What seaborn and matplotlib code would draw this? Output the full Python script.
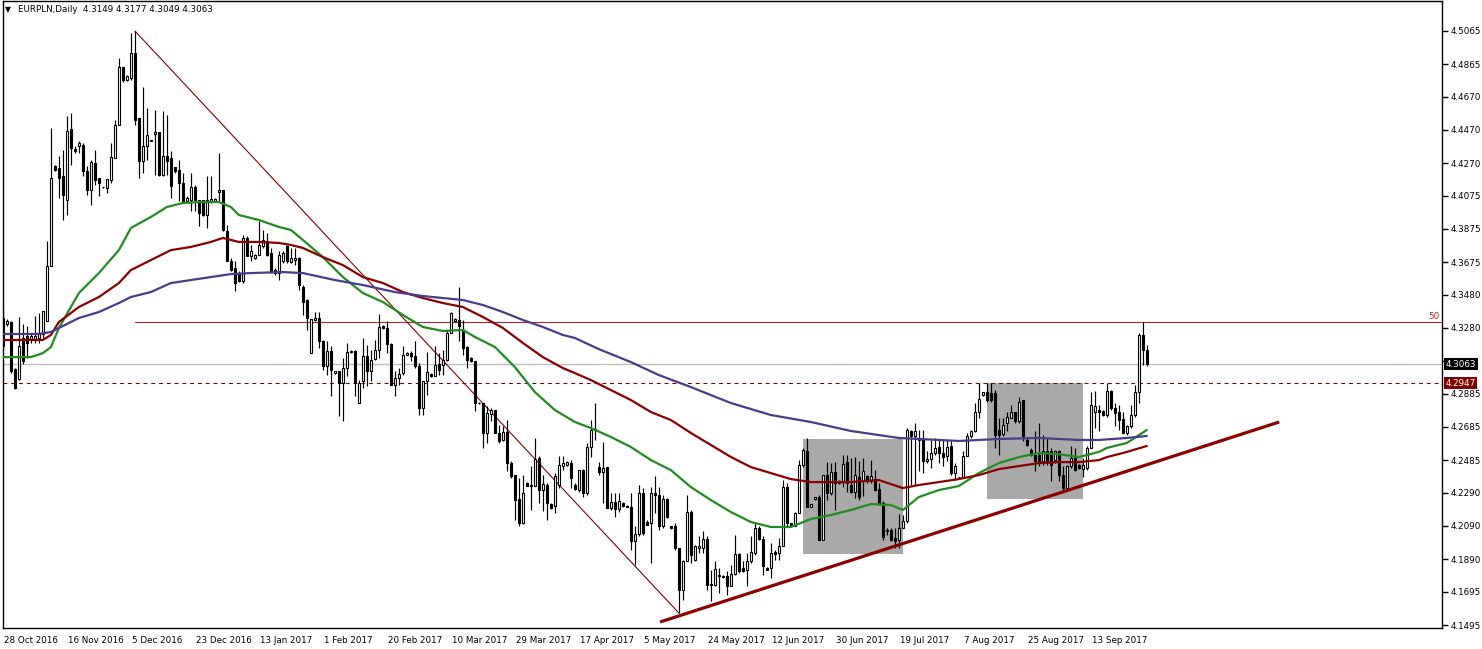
"""EURPLN daily candlestick chart with moving averages, trend lines and zones."""

import matplotlib

matplotlib.use("Agg")
import matplotlib.pyplot as plt
import matplotlib.transforms as mtransforms
import numpy as np
import seaborn as sns
from matplotlib.patches import Rectangle

# --- OHLC per daily bar (bar 0 = 28 Oct 2016) ---
opens = [
    4.3341, 4.3301, 4.3315, 4.3031, 4.2971, 4.3221, 4.3231, 4.3211, 4.3211, 4.3221,
    4.3241, 4.3321, 4.3651, 4.4251, 4.4241, 4.4191, 4.4051, 4.4477, 4.4357, 4.4371,
    4.4381, 4.4221, 4.4111, 4.4271, 4.4181, 4.4127, 4.4121, 4.4171, 4.4301, 4.4501,
    4.4851, 4.4771, 4.4781, 4.4931, 4.4541, 4.4281, 4.4371, 4.4407, 4.4447, 4.4457,
    4.4201, 4.4311, 4.4301, 4.4245, 4.4227, 4.4151, 4.4045, 4.4051, 4.4127, 4.4051,
    4.4051, 4.3961, 4.4041, 4.4041, 4.4097, 4.4111, 4.3865, 4.3685, 4.3641, 4.3611,
    4.3561, 4.3821, 4.3711, 4.3701, 4.3721, 4.3771, 4.3801, 4.3731, 4.3631, 4.3611,
    4.3681, 4.3771, 4.3679, 4.3689, 4.3699, 4.3529, 4.3449, 4.3129, 4.3329, 4.3339,
    4.3199, 4.3049, 4.3139, 4.3009, 4.3019, 4.2949, 4.3039, 4.3133, 4.3139, 4.2829,
    4.2959, 4.3109, 4.3019, 4.3093, 4.3145, 4.3289, 4.3279, 4.3185, 4.2939, 4.2979,
    4.3009, 4.3119, 4.3129, 4.3113, 4.3049, 4.2799, 4.2959, 4.3003, 4.2989, 4.3065,
    4.3059, 4.3085, 4.3249, 4.3319, 4.3329, 4.3269, 4.3165, 4.3099, 4.3083, 4.2829,
    4.2829, 4.2649, 4.2765, 4.2789, 4.2649, 4.2609, 4.2653, 4.2469, 4.2399, 4.2253,
    4.2109, 4.2349, 4.2329, 4.2329, 4.2499, 4.2309, 4.2339, 4.2223, 4.2209, 4.2339,
    4.2453, 4.2459, 4.2469, 4.2337, 4.2307, 4.2427, 4.2287, 4.2563, 4.2667, 4.2443,
    4.2417, 4.2443, 4.2197, 4.2237, 4.2193, 4.2231, 4.2213, 4.2207, 4.1997, 4.2043,
    4.2287, 4.2117, 4.2107, 4.2287, 4.2277, 4.2087, 4.2251, 4.2087, 4.2087, 4.1957,
    4.1707, 4.1877, 4.2177, 4.1887, 4.1957, 4.1957, 4.2011, 4.1741, 4.1737, 4.1793,
    4.1791, 4.1787, 4.1727, 4.1801, 4.1923, 4.1837, 4.1827, 4.1877, 4.1927, 4.2077,
    4.2011, 4.1837, 4.1837, 4.1931, 4.1927, 4.1967, 4.2327, 4.2107, 4.2087, 4.2171,
    4.2457, 4.2543, 4.2207, 4.2251, 4.2267, 4.2007, 4.2397, 4.2287, 4.2417, 4.2347,
    4.2363, 4.2477, 4.2337, 4.2297, 4.2387, 4.2358, 4.2388, 4.2358, 4.2374, 4.2314,
    4.2228, 4.2058, 4.2068, 4.2018, 4.2008, 4.2078, 4.2118, 4.2658, 4.2628, 4.2618,
    4.2614, 4.2478, 4.2494, 4.2528, 4.2562, 4.2528, 4.2508, 4.2572, 4.2408, 4.2382,
    4.2382, 4.2512, 4.2628, 4.2658, 4.2778, 4.2878, 4.2894, 4.2888, 4.2888, 4.2668,
    4.2642, 4.2708, 4.2742, 4.2774, 4.2718, 4.2848, 4.2608, 4.2548, 4.2518, 4.2518,
    4.2478, 4.2538, 4.2538, 4.2488, 4.2538, 4.2398, 4.2318, 4.2448, 4.2498, 4.2458,
    4.2434, 4.2438, 4.2558, 4.2774, 4.2788, 4.2782, 4.2758, 4.2902, 4.2798, 4.2774,
    4.2734, 4.2648, 4.2688, 4.2758, 4.2898, 4.3238, 4.3149,
]
highs = [
    4.3411, 4.3331, 4.3321, 4.3041, 4.3345, 4.3301, 4.3291, 4.3241, 4.3351, 4.3371,
    4.3381, 4.3801, 4.4481, 4.4261, 4.4311, 4.4351, 4.4551, 4.4571, 4.4371, 4.4401,
    4.4391, 4.4251, 4.4291, 4.4351, 4.4181, 4.4127, 4.4175, 4.4391, 4.4531, 4.4901,
    4.4851, 4.4801, 4.5051, 4.5065, 4.4541, 4.4731, 4.4601, 4.4411, 4.4591, 4.4457,
    4.4581, 4.4561, 4.4341, 4.4245, 4.4291, 4.4211, 4.4071, 4.4211, 4.4141, 4.4051,
    4.4051, 4.4191, 4.4191, 4.4061, 4.4331, 4.4111, 4.3901, 4.3701, 4.3681, 4.3621,
    4.3841, 4.3831, 4.3781, 4.3725, 4.3921, 4.3871, 4.3851, 4.3761, 4.3641, 4.3741,
    4.3741, 4.3781, 4.3759, 4.3759, 4.3709, 4.3539, 4.3453, 4.3333, 4.3379, 4.3379,
    4.3209, 4.3199, 4.3169, 4.3023, 4.3023, 4.3099, 4.3189, 4.3149, 4.3149, 4.2969,
    4.3219, 4.3179, 4.3149, 4.3209, 4.3365, 4.3299, 4.3319, 4.3189, 4.3019, 4.3039,
    4.3169, 4.3133, 4.3139, 4.3199, 4.3069, 4.2959, 4.3133, 4.3009, 4.3169, 4.3129,
    4.3149, 4.3269, 4.3379, 4.3339, 4.3529, 4.3329, 4.3169, 4.3105, 4.3083, 4.2833,
    4.2829, 4.2809, 4.2799, 4.2789, 4.2699, 4.2689, 4.2729, 4.2479, 4.2399, 4.2379,
    4.2399, 4.2353, 4.2449, 4.2619, 4.2509, 4.2399, 4.2349, 4.2229, 4.2409, 4.2509,
    4.2509, 4.2479, 4.2489, 4.2347, 4.2427, 4.2431, 4.2587, 4.2727, 4.2827, 4.2477,
    4.2597, 4.2443, 4.2287, 4.2287, 4.2287, 4.2237, 4.2217, 4.2287, 4.2087, 4.2337,
    4.2317, 4.2127, 4.2327, 4.2391, 4.2327, 4.2277, 4.2257, 4.2091, 4.2107, 4.1957,
    4.1887, 4.2277, 4.2187, 4.1977, 4.2027, 4.2057, 4.2027, 4.1827, 4.1877, 4.1837,
    4.1797, 4.1817, 4.1857, 4.2037, 4.1927, 4.1877, 4.1927, 4.2027, 4.2107, 4.2087,
    4.2027, 4.1843, 4.1987, 4.1947, 4.2017, 4.2367, 4.2347, 4.2111, 4.2177, 4.2487,
    4.2557, 4.2617, 4.2225, 4.2267, 4.2277, 4.2397, 4.2477, 4.2467, 4.2477, 4.2367,
    4.2517, 4.2517, 4.2497, 4.2507, 4.2478, 4.2498, 4.2398, 4.2488, 4.2428, 4.2348,
    4.2238, 4.2078, 4.2078, 4.2078, 4.2162, 4.2158, 4.2678, 4.2668, 4.2708, 4.2668,
    4.2668, 4.2538, 4.2608, 4.2618, 4.2608, 4.2608, 4.2608, 4.2608, 4.2468, 4.2386,
    4.2538, 4.2648, 4.2668, 4.2828, 4.2948, 4.2898, 4.2948, 4.2948, 4.2908, 4.2738,
    4.2738, 4.2778, 4.2818, 4.2778, 4.2868, 4.2848, 4.2622, 4.2558, 4.2658, 4.2708,
    4.2638, 4.2618, 4.2558, 4.2548, 4.2548, 4.2448, 4.2458, 4.2568, 4.2558, 4.2462,
    4.2498, 4.2568, 4.2898, 4.2902, 4.2818, 4.2788, 4.2948, 4.2908, 4.2828, 4.2818,
    4.2778, 4.2698, 4.2818, 4.2938, 4.3248, 4.3318, 4.3177,
]
lows = [
    4.3151, 4.3291, 4.3011, 4.2911, 4.2965, 4.3061, 4.3101, 4.3191, 4.3191, 4.3191,
    4.3221, 4.3321, 4.3651, 4.4221, 4.4061, 4.3931, 4.3961, 4.4261, 4.4331, 4.4331,
    4.4191, 4.4081, 4.4021, 4.4141, 4.4071, 4.4121, 4.4091, 4.4151, 4.4301, 4.4501,
    4.4761, 4.4765, 4.4771, 4.4501, 4.4181, 4.4211, 4.4291, 4.4401, 4.4201, 4.4191,
    4.4191, 4.4201, 4.4061, 4.4211, 4.4041, 4.4041, 4.4041, 4.3981, 4.3981, 4.3891,
    4.3951, 4.3881, 4.4031, 4.4037, 4.4041, 4.3865, 4.3681, 4.3621, 4.3501, 4.3557,
    4.3551, 4.3711, 4.3681, 4.3697, 4.3721, 4.3761, 4.3711, 4.3611, 4.3601, 4.3571,
    4.3671, 4.3671, 4.3669, 4.3659, 4.3509, 4.3359, 4.3269, 4.3129, 4.3319, 4.3159,
    4.3029, 4.2999, 4.2869, 4.3005, 4.2749, 4.2719, 4.2989, 4.3129, 4.2869, 4.2829,
    4.2919, 4.2929, 4.2959, 4.3089, 4.3099, 4.3273, 4.3129, 4.2939, 4.2869, 4.2939,
    4.2999, 4.3115, 4.3079, 4.3039, 4.2759, 4.2759, 4.2879, 4.2985, 4.2989, 4.2999,
    4.2999, 4.3079, 4.3249, 4.3313, 4.3199, 4.3119, 4.3039, 4.3075, 4.2779, 4.2823,
    4.2559, 4.2589, 4.2719, 4.2649, 4.2589, 4.2599, 4.2419, 4.2379, 4.2129, 4.2089,
    4.2099, 4.2329, 4.2189, 4.2329, 4.2229, 4.2179, 4.2129, 4.2193, 4.2169, 4.2319,
    4.2429, 4.2453, 4.2319, 4.2307, 4.2297, 4.2267, 4.2277, 4.2507, 4.2607, 4.2397,
    4.2227, 4.2197, 4.2187, 4.2147, 4.2177, 4.2207, 4.2203, 4.1947, 4.1857, 4.2027,
    4.2037, 4.2093, 4.1867, 4.2167, 4.2067, 4.2077, 4.2137, 4.2073, 4.1947, 4.1567,
    4.1647, 4.1877, 4.1867, 4.1877, 4.1927, 4.1927, 4.1707, 4.1637, 4.1727, 4.1687,
    4.1777, 4.1677, 4.1727, 4.1797, 4.1807, 4.1811, 4.1727, 4.1867, 4.1917, 4.2007,
    4.1797, 4.1823, 4.1777, 4.1887, 4.1887, 4.1967, 4.2087, 4.2083, 4.2087, 4.2171,
    4.2447, 4.2207, 4.2203, 4.2247, 4.2003, 4.2003, 4.2247, 4.2277, 4.2187, 4.2343,
    4.2327, 4.2297, 4.2287, 4.2257, 4.2247, 4.2268, 4.2348, 4.2348, 4.2298, 4.2218,
    4.2008, 4.2038, 4.2002, 4.1958, 4.1958, 4.2078, 4.2108, 4.2338, 4.2338, 4.2418,
    4.2408, 4.2468, 4.2438, 4.2518, 4.2468, 4.2448, 4.2478, 4.2398, 4.2368, 4.2378,
    4.2378, 4.2508, 4.2618, 4.2654, 4.2738, 4.2874, 4.2838, 4.2838, 4.2558, 4.2518,
    4.2628, 4.2658, 4.2738, 4.2708, 4.2708, 4.2598, 4.2568, 4.2508, 4.2418, 4.2448,
    4.2458, 4.2458, 4.2358, 4.2468, 4.2358, 4.2308, 4.2308, 4.2438, 4.2418, 4.2434,
    4.2382, 4.2428, 4.2558, 4.2678, 4.2658, 4.2754, 4.2748, 4.2788, 4.2688, 4.2668,
    4.2648, 4.2638, 4.2678, 4.2748, 4.2828, 4.3058, 4.3049,
]
closes = [
    4.3171, 4.3321, 4.3021, 4.2921, 4.3171, 4.3081, 4.3191, 4.3231, 4.3231, 4.3251,
    4.3381, 4.3651, 4.4181, 4.4227, 4.4181, 4.4081, 4.4461, 4.4361, 4.4341, 4.4391,
    4.4221, 4.4111, 4.4275, 4.4171, 4.4151, 4.4125, 4.4175, 4.4305, 4.4501, 4.4851,
    4.4771, 4.4797, 4.4931, 4.4531, 4.4281, 4.4371, 4.4441, 4.4405, 4.4457, 4.4201,
    4.4311, 4.4281, 4.4131, 4.4221, 4.4151, 4.4041, 4.4061, 4.4127, 4.4051, 4.3971,
    4.3961, 4.4051, 4.4057, 4.4055, 4.4111, 4.3871, 4.3681, 4.3631, 4.3551, 4.3561,
    4.3821, 4.3711, 4.3741, 4.3721, 4.3781, 4.3811, 4.3721, 4.3621, 4.3611, 4.3721,
    4.3731, 4.3681, 4.3699, 4.3699, 4.3539, 4.3439, 4.3339, 4.3333, 4.3339, 4.3199,
    4.3049, 4.3139, 4.3029, 4.3019, 4.2949, 4.3039, 4.3133, 4.3143, 4.2949, 4.2949,
    4.3109, 4.3019, 4.3089, 4.3149, 4.3285, 4.3279, 4.3185, 4.2939, 4.2979, 4.3003,
    4.3115, 4.3129, 4.3109, 4.3049, 4.2799, 4.2959, 4.3013, 4.2989, 4.3059, 4.3029,
    4.3085, 4.3249, 4.3369, 4.3333, 4.3289, 4.3159, 4.3089, 4.3079, 4.2829, 4.2827,
    4.2649, 4.2769, 4.2785, 4.2649, 4.2599, 4.2653, 4.2469, 4.2389, 4.2249, 4.2109,
    4.2289, 4.2333, 4.2339, 4.2493, 4.2309, 4.2343, 4.2229, 4.2199, 4.2389, 4.2459,
    4.2469, 4.2473, 4.2379, 4.2311, 4.2427, 4.2287, 4.2563, 4.2667, 4.2671, 4.2417,
    4.2437, 4.2197, 4.2237, 4.2193, 4.2243, 4.2213, 4.2207, 4.1997, 4.2043, 4.2287,
    4.2047, 4.2097, 4.2287, 4.2277, 4.2087, 4.2251, 4.2147, 4.2077, 4.1957, 4.1707,
    4.1877, 4.2177, 4.1917, 4.1967, 4.1971, 4.2011, 4.1737, 4.1733, 4.1831, 4.1787,
    4.1783, 4.1727, 4.1801, 4.1923, 4.1817, 4.1817, 4.1877, 4.1931, 4.2077, 4.2011,
    4.1847, 4.1827, 4.1927, 4.1923, 4.1967, 4.2327, 4.2107, 4.2087, 4.2171, 4.2457,
    4.2547, 4.2207, 4.2221, 4.2263, 4.2007, 4.2397, 4.2287, 4.2417, 4.2347, 4.2363,
    4.2463, 4.2347, 4.2297, 4.2397, 4.2267, 4.2418, 4.2358, 4.2388, 4.2308, 4.2228,
    4.2022, 4.2068, 4.2008, 4.1998, 4.2078, 4.2118, 4.2668, 4.2628, 4.2658, 4.2608,
    4.2478, 4.2494, 4.2528, 4.2558, 4.2528, 4.2502, 4.2562, 4.2408, 4.2448, 4.2384,
    4.2512, 4.2628, 4.2658, 4.2778, 4.2852, 4.2894, 4.2848, 4.2848, 4.2638, 4.2634,
    4.2698, 4.2748, 4.2774, 4.2718, 4.2838, 4.2628, 4.2578, 4.2514, 4.2478, 4.2478,
    4.2542, 4.2478, 4.2458, 4.2538, 4.2398, 4.2318, 4.2448, 4.2498, 4.2428, 4.2438,
    4.2458, 4.2558, 4.2818, 4.2814, 4.2774, 4.2758, 4.2902, 4.2798, 4.2768, 4.2728,
    4.2648, 4.2688, 4.2758, 4.2898, 4.3238, 4.3148, 4.3063,
]

# --- moving averages, read at sample bars ---
green_idx = [0, 7, 10, 12, 14, 19, 24, 29, 32, 37, 41, 45, 49, 54, 57, 59, 64, 69, 72, 75,
             80, 85, 90, 95, 100, 105, 110, 115, 118, 123, 128, 133, 138, 143, 147, 152,
             157, 162, 167, 172, 177, 182, 187, 192, 197, 202, 207, 212, 217, 222, 225,
             229, 234, 239, 244, 249, 254, 259, 264, 269, 274, 276, 281, 286]
green_vals = [4.3105, 4.3105, 4.3129, 4.3165, 4.3280, 4.3490, 4.3610, 4.3748, 4.3881, 4.3947,
              4.4007, 4.4031, 4.4037, 4.4037, 4.4007, 4.3959, 4.3929, 4.3887, 4.3869, 4.3809,
              4.3706, 4.3586, 4.3490, 4.3436, 4.3358, 4.3286, 4.3262, 4.3268, 4.3226, 4.3166,
              4.3045, 4.2895, 4.2787, 4.2715, 4.2679, 4.2625, 4.2565, 4.2486, 4.2426, 4.2324,
              4.2246, 4.2174, 4.2114, 4.2084, 4.2084, 4.2132, 4.2156, 4.2186, 4.2222, 4.2216,
              4.2186, 4.2264, 4.2306, 4.2330, 4.2408, 4.2468, 4.2504, 4.2528, 4.2522, 4.2504,
              4.2535, 4.2559, 4.2589, 4.2667]
red_idx = [0, 10, 12, 14, 19, 24, 29, 32, 37, 42, 47, 52, 55, 59, 64, 69, 72, 75, 80, 85,
           90, 95, 100, 105, 110, 115, 120, 125, 130, 135, 140, 143, 147, 152, 157, 162,
           167, 172, 177, 182, 187, 192, 197, 202, 212, 219, 225, 229, 234, 239, 244, 249,
           254, 259, 264, 269, 274, 276, 281, 286]
red_vals = [4.3208, 4.3208, 4.3238, 4.3316, 4.3406, 4.3466, 4.3550, 4.3628, 4.3688, 4.3748,
            4.3767, 4.3797, 4.3821, 4.3797, 4.3797, 4.3791, 4.3779, 4.3761, 4.3706, 4.3658,
            4.3586, 4.3550, 4.3496, 4.3460, 4.3430, 4.3406, 4.3346, 4.3280, 4.3190, 4.3105,
            4.3039, 4.3009, 4.2967, 4.2907, 4.2847, 4.2775, 4.2727, 4.2649, 4.2577, 4.2505,
            4.2444, 4.2408, 4.2372, 4.2354, 4.2354, 4.2366, 4.2318, 4.2336, 4.2354, 4.2372,
            4.2396, 4.2432, 4.2450, 4.2468, 4.2474, 4.2474, 4.2486, 4.2504, 4.2535, 4.2571]
blue_idx = [0, 9, 12, 14, 19, 24, 29, 32, 37, 42, 47, 52, 57, 62, 70, 75, 83, 90, 98, 105,
            110, 115, 120, 125, 130, 135, 140, 143, 149, 157, 164, 172, 182, 192, 202, 212,
            224, 234, 239, 249, 259, 269, 274, 281, 286]
blue_vals = [4.3244, 4.3244, 4.3256, 4.3280, 4.3340, 4.3376, 4.3430, 4.3466, 4.3496, 4.3550,
             4.3568, 4.3586, 4.3604, 4.3610, 4.3616, 4.3610, 4.3568, 4.3538, 4.3496, 4.3472,
             4.3460, 4.3448, 4.3418, 4.3376, 4.3328, 4.3286, 4.3238, 4.3220, 4.3153, 4.3075,
             4.2997, 4.2925, 4.2829, 4.2757, 4.2715, 4.2661, 4.2619, 4.2607, 4.2601, 4.2613,
             4.2619, 4.2607, 4.2607, 4.2619, 4.2631]

# --- drawn objects ---
fib_high, fib_low = 4.5065, 4.1567
fib_high_bar, fib_low_bar = 33, 169
trend_bars = [164.3, 319.1]
trend_vals = [4.1513, 4.2715]
zone_bars = [(200, 225), (246, 270)]
zone_vals = [(4.1921, 4.2613), (4.2252, 4.2949)]
bid_price = 4.3063
level_price = 4.2947

# --- axes text ---
date_labels = ["28 Oct 2016", "16 Nov 2016", "5 Dec 2016", "23 Dec 2016", "13 Jan 2017",
               "1 Feb 2017", "20 Feb 2017", "10 Mar 2017", "29 Mar 2017", "17 Apr 2017",
               "5 May 2017", "24 May 2017", "12 Jun 2017", "30 Jun 2017", "19 Jul 2017",
               "7 Aug 2017", "25 Aug 2017", "13 Sep 2017"]
date_bars = [16 * k for k in range(len(date_labels))]
price_ticks = [4.5065, 4.4865, 4.4670, 4.4470, 4.4270, 4.4075, 4.3875, 4.3675, 4.3480,
               4.3280, 4.3080, 4.2885, 4.2685, 4.2485, 4.2290, 4.2090, 4.1890, 4.1695,
               4.1495]
hidden_tick = 4.3080  # covered by the bid marker on the scale
title = "EURPLN,Daily  4.3149 4.3177 4.3049 4.3063"

W, H = 1482, 649
sns.set_style("white")
plt.rcParams["font.family"] = ["DejaVu Sans"]
FS = 6.3

fig = plt.figure(figsize=(W / 100, H / 100), dpi=100)
ax = fig.add_axes([2.5 / W, 21 / H, 1439.5 / W, 627 / H])
ax.set_xlim(-0.1, 359.8)
ax.set_ylim(4.1477, 4.5245)

o = np.array(opens)
h = np.array(highs)
l = np.array(lows)
c = np.array(closes)
x = np.arange(len(o))
up = c >= o

# zones behind everything
for (b0, b1), (v0, v1) in zip(zone_bars, zone_vals):
    ax.add_patch(Rectangle((b0, v0), b1 - b0, v1 - v0, facecolor="#A9A9A9",
                           edgecolor="none", zorder=1))

# horizontal levels
ax.axhline(bid_price, color="#C0C0C0", lw=1.0, zorder=2)
ax.axhline(level_price, color="#800000", lw=0.8, ls=(0, (3.5, 3.5)), zorder=2)
fib_mid = (fib_high + fib_low) / 2
ax.plot([fib_high_bar, 359.8], [fib_mid, fib_mid], color="#A52A2A", lw=0.8, zorder=2)
ax.plot([fib_high_bar, fib_low_bar], [fib_high, fib_low], color="#8B0000", lw=0.8, zorder=2)

# candles
ax.vlines(x, l, h, color="black", lw=0.85, zorder=3)
ax.bar(x, np.abs(c - o), bottom=np.minimum(o, c), width=0.52,
       color=np.where(up, "white", "black"), edgecolor="black", linewidth=0.8, zorder=4)

# moving averages
sns.lineplot(x=green_idx, y=green_vals, color="#228B22", lw=1.6, ax=ax, zorder=5)
sns.lineplot(x=red_idx, y=red_vals, color="#8B0000", lw=1.6, ax=ax, zorder=5)
sns.lineplot(x=blue_idx, y=blue_vals, color="#483D8B", lw=1.6, ax=ax, zorder=5)

# rising trend line
ax.plot(trend_bars, trend_vals, color="#8B0000", lw=2.3, zorder=6,
        solid_capstyle="butt")

# frame and ticks
for sp in ax.spines.values():
    sp.set_visible(True)
    sp.set_color("black")
    sp.set_linewidth(1.0)
ax.yaxis.tick_right()
ax.set_yticks(price_ticks)
ax.set_yticklabels(["" if v == hidden_tick else f"{v:.4f}" for v in price_ticks])
ax.tick_params(axis="y", direction="out", length=4, width=1, pad=2, labelsize=FS,
               colors="black")
ax.set_xticks(date_bars)
ax.set_xticklabels(date_labels)
ax.tick_params(axis="x", direction="out", length=5, width=1, pad=1, labelsize=FS,
               colors="black")
shift = mtransforms.ScaledTranslation(1 / 100, 0, fig.dpi_scale_trans)
for lbl in ax.get_xticklabels():
    lbl.set_horizontalalignment("left")
    lbl.set_transform(lbl.get_transform() + shift)
ax.set_xlabel("")
ax.set_ylabel("")
ax.grid(False)

# price markers on the scale
trans = mtransforms.blended_transform_factory(ax.transAxes, ax.transData)
ax.text(1.0025, bid_price, f"{bid_price:.4f}", transform=trans, color="white",
        fontsize=FS, va="center", ha="left", zorder=10, clip_on=False,
        bbox=dict(boxstyle="square,pad=0.18", fc="black", ec="none"))
ax.text(1.0025, level_price, f"{level_price:.4f}", transform=trans, color="white",
        fontsize=FS, va="center", ha="left", zorder=10, clip_on=False,
        bbox=dict(boxstyle="square,pad=0.18", fc="#800000", ec="none"))
ax.text(359.3, fib_mid + 0.0006, "50", color="#D02020", fontsize=FS, ha="right",
        va="bottom", zorder=7)

# chart caption
fig.text(5 / W, 1 - 10 / H, "\u25bc", fontsize=5.5, va="center", ha="left", color="black")
fig.text(18 / W, 1 - 10 / H, title, fontsize=FS, va="center", ha="left", color="black")

fig.savefig("out.png", dpi=100)
